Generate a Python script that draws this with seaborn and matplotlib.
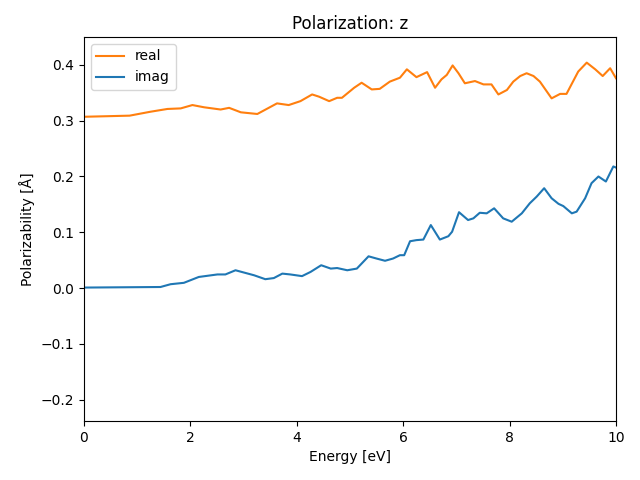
import matplotlib
matplotlib.use("Agg")
import matplotlib.pyplot as plt
import seaborn as sns
import pandas as pd

# Values
real_energy = [0.0, 0.86, 1.25, 1.57, 1.82, 2.04, 2.26, 2.57, 2.73, 2.95, 3.26,
               3.63, 3.85, 4.07, 4.29, 4.42, 4.61, 4.76, 4.85, 5.08, 5.22, 5.41,
               5.56, 5.75, 5.94, 6.07, 6.25, 6.45, 6.60, 6.72, 6.82, 6.93, 7.04,
               7.16, 7.35, 7.51, 7.66, 7.79, 7.95, 8.07, 8.20, 8.32, 8.45, 8.57,
               8.79, 8.95, 9.07, 9.29, 9.45, 9.61, 9.75, 9.89, 10.0]
real_pol = [0.307, 0.309, 0.316, 0.321, 0.322, 0.328, 0.324, 0.320, 0.323, 0.315, 0.312,
            0.331, 0.328, 0.335, 0.347, 0.343, 0.335, 0.341, 0.341, 0.359, 0.368, 0.356,
            0.357, 0.370, 0.377, 0.392, 0.378, 0.387, 0.359, 0.374, 0.382, 0.399, 0.385,
            0.367, 0.371, 0.365, 0.365, 0.347, 0.355, 0.370, 0.380, 0.385, 0.380, 0.370,
            0.340, 0.348, 0.348, 0.388, 0.404, 0.392, 0.380, 0.394, 0.376]

imag_energy = [0.0, 1.44, 1.63, 1.88, 2.16, 2.51, 2.66, 2.85, 3.2, 3.41, 3.57,
               3.73, 3.88, 4.10, 4.26, 4.46, 4.64, 4.76, 4.95, 5.13, 5.35, 5.50,
               5.66, 5.81, 5.94, 6.02, 6.13, 6.25, 6.38, 6.52, 6.69, 6.85, 6.92,
               7.05, 7.22, 7.32, 7.44, 7.57, 7.71, 7.88, 8.04, 8.23, 8.38, 8.51,
               8.65, 8.79, 8.92, 9.01, 9.17, 9.26, 9.42, 9.54, 9.67, 9.81, 9.95, 10.0]
imag_pol = [0.001, 0.002, 0.007, 0.0095, 0.020, 0.0245, 0.0245, 0.032, 0.023, 0.016, 0.018,
            0.026, 0.0245, 0.0215, 0.029, 0.041, 0.035, 0.036, 0.032, 0.035, 0.057, 0.053,
            0.049, 0.053, 0.059, 0.059, 0.084, 0.086, 0.087, 0.113, 0.087, 0.093, 0.101,
            0.136, 0.122, 0.125, 0.135, 0.134, 0.143, 0.125, 0.119, 0.134, 0.152, 0.164,
            0.179, 0.161, 0.151, 0.147, 0.134, 0.137, 0.161, 0.188, 0.200, 0.191, 0.218, 0.216]

real_df = pd.DataFrame({"energy": real_energy, "pol": real_pol})
imag_df = pd.DataFrame({"energy": imag_energy, "pol": imag_pol})

fig, ax = plt.subplots(figsize=(6.4, 4.8), dpi=100)

sns.lineplot(data=real_df, x="energy", y="pol", color="C1", label="real", ax=ax)
sns.lineplot(data=imag_df, x="energy", y="pol", color="C0", label="imag", ax=ax)

ax.set_xlim(0, 10)
ax.set_ylim(-0.238, 0.45)
ax.set_title("Polarization: z")
ax.set_xlabel("Energy [eV]")
ax.set_ylabel("Polarizability [Å]")
ax.legend(loc="upper left")

fig.subplots_adjust(left=0.131, right=0.9625, top=0.923, bottom=0.123)
fig.savefig("out.png")
